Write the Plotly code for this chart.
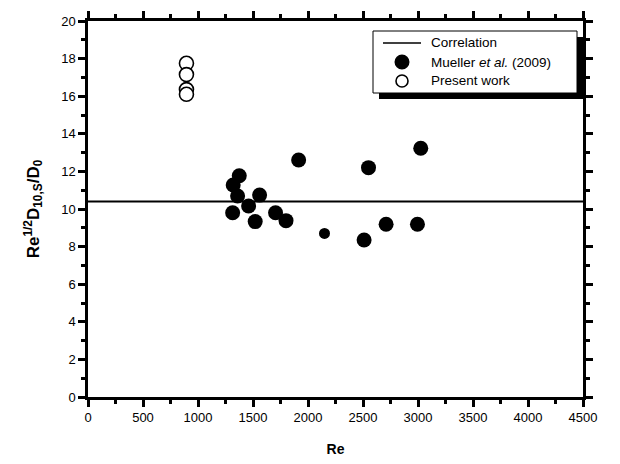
import plotly.graph_objects as go

# Data
corr_re = [0, 4500]
corr_val = [10.4, 10.4]

mueller_re = [1320, 1360, 1375, 1315, 1460, 1520, 1560, 1705, 1800, 1915, 2510, 2550, 2710, 2995, 3025]
mueller_val = [11.28, 10.69, 11.77, 9.80, 10.16, 9.33, 10.74, 9.80, 9.38, 12.61, 8.35, 12.20, 9.19, 9.19, 13.23]

mueller_small_re = [2150]
mueller_small_val = [8.70]

present_re = [895, 895, 895, 895]
present_val = [17.75, 17.15, 16.35, 16.10]

x_ticks = [0, 500, 1000, 1500, 2000, 2500, 3000, 3500, 4000, 4500]
y_ticks = [0, 2, 4, 6, 8, 10, 12, 14, 16, 18, 20]

legend_labels = ["Correlation", "Mueller <i>et al.</i> (2009)", "Present work"]

FONT = "Liberation Sans, Arial, sans-serif"

W, H = 620, 464
ML, MR, MT, MB = 88, 37, 21, 67
PW, PH = W - ML - MR, H - MT - MB


def px(x):
    return (x - ML) / PW


def py(y):
    return (H - MB - y) / PH


fig = go.Figure()
fig.add_trace(go.Scatter(x=corr_re, y=corr_val, mode="lines", name=legend_labels[0],
                         showlegend=False, line=dict(color="black", width=2)))
fig.add_trace(go.Scatter(x=mueller_re, y=mueller_val, mode="markers", name=legend_labels[1],
                         showlegend=False,
                         marker=dict(color="black", size=15, line=dict(width=0))))
fig.add_trace(go.Scatter(x=mueller_small_re, y=mueller_small_val, mode="markers",
                         showlegend=False, name=legend_labels[1],
                         marker=dict(color="black", size=11, line=dict(width=0))))
fig.add_trace(go.Scatter(x=present_re, y=present_val, mode="markers", name=legend_labels[2],
                         showlegend=False,
                         marker=dict(color="white", size=14, symbol="circle",
                                     line=dict(color="black", width=1.6))))

# manual legend: shadow, box, symbols, texts
bx0, bx1, by0, by1 = 373, 577, 31, 93
sh = 6
fig.add_shape(type="rect", xref="paper", yref="paper",
              x0=px(bx0 + sh), x1=px(bx1 + sh), y0=py(by1 + sh), y1=py(by0 + sh),
              fillcolor="black", line=dict(width=0), layer="above")
fig.add_shape(type="rect", xref="paper", yref="paper",
              x0=px(bx0), x1=px(bx1), y0=py(by1), y1=py(by0),
              fillcolor="white", line=dict(color="black", width=1), layer="above")
rows = [43, 62, 81]
fig.add_shape(type="line", xref="paper", yref="paper",
              x0=px(383), x1=px(421), y0=py(rows[0]), y1=py(rows[0]),
              line=dict(color="black", width=1.5), layer="above")
r1 = 7.5
fig.add_shape(type="circle", xref="paper", yref="paper",
              x0=px(402 - r1), x1=px(402 + r1), y0=py(rows[1] + r1), y1=py(rows[1] - r1),
              fillcolor="black", line=dict(width=0), layer="above")
r2 = 6
fig.add_shape(type="circle", xref="paper", yref="paper",
              x0=px(402 - r2), x1=px(402 + r2), y0=py(rows[2] + r2), y1=py(rows[2] - r2),
              fillcolor="white", line=dict(color="black", width=1.6), layer="above")
for lab, ry in zip(legend_labels, rows):
    fig.add_annotation(text=lab, xref="paper", yref="paper", x=px(429), y=py(ry),
                       xanchor="left", yanchor="middle", showarrow=False,
                       font=dict(family=FONT, size=13.5, color="black"))

fig.update_layout(
    width=W, height=H,
    margin=dict(l=ML, r=MR, t=MT, b=MB),
    paper_bgcolor="white", plot_bgcolor="white",
    font=dict(family=FONT, size=13, color="black"),
    showlegend=False,
    xaxis=dict(range=[0, 4500], tickvals=x_ticks, ticktext=[str(v) for v in x_ticks],
               automargin=False,
               showgrid=False, zeroline=False, showline=True, linecolor="black", linewidth=2.5,
               mirror="ticks", ticks="outside", ticklen=7, tickwidth=2.5, tickcolor="black",
               minor=dict(dtick=250, ticks="outside", ticklen=4, tickwidth=2.5, tickcolor="black", showgrid=False),
               title=dict(text="<b>Re</b>", font=dict(size=14), standoff=20),
               tickfont=dict(size=13)),
    yaxis=dict(range=[0, 20], tickvals=y_ticks, ticktext=[str(v) for v in y_ticks],
               automargin=False,
               showgrid=False, zeroline=False, showline=True, linecolor="black", linewidth=2.5,
               mirror="ticks", ticks="outside", ticklen=7, tickwidth=2.5, tickcolor="black",
               minor=dict(dtick=1, ticks="outside", ticklen=4, tickwidth=2.5, tickcolor="black", showgrid=False),
               title=dict(text="<b>Re<sup>1/2</sup>D<sub>10,S</sub>/D<sub>0</sub></b>", font=dict(size=17), standoff=18),
               tickfont=dict(size=13)),
)

fig.write_html("out.html")
